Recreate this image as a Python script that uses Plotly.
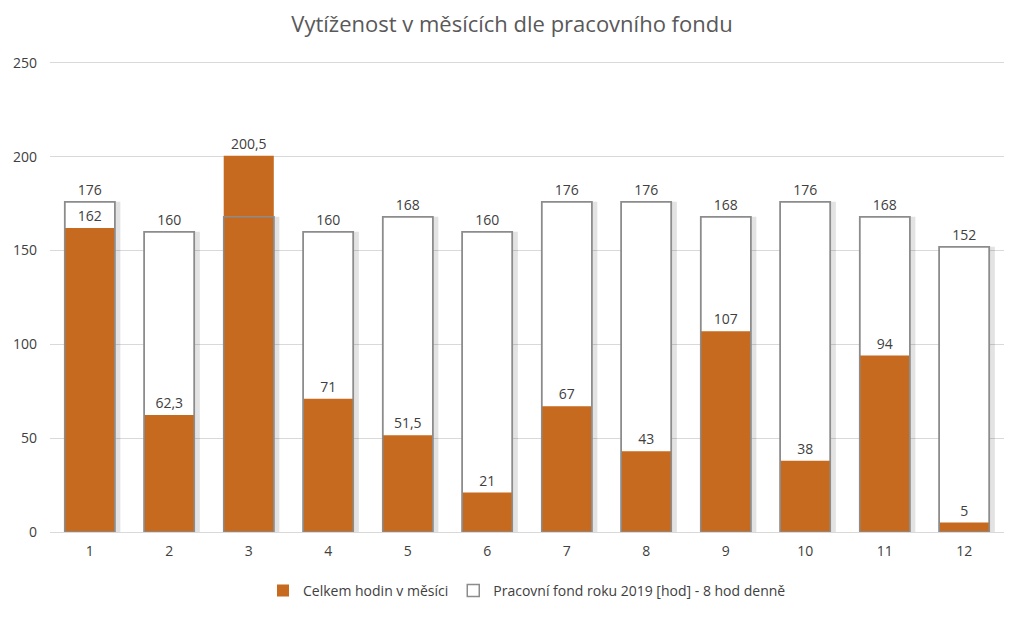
import plotly.graph_objects as go

# Data
mesice = [str(m) for m in range(1, 13)]
celkem_hodin = [162, 62.3, 200.5, 71, 51.5, 21, 67, 43, 107, 38, 94, 5]
pracovni_fond = [176, 160, 168, 160, 168, 160, 176, 176, 168, 176, 168, 152]

ORANZOVA = '#C66A1F'
SEDA = '#8C8C8C'
TEXT = '#404040'
FONT = 'Open Sans'
SIRKA = 0.63


def cz(v):
    # desetinná čárka
    return f"{v:g}".replace('.', ',')


fig = go.Figure()

# stín za sloupci
fig.add_trace(go.Bar(
    x=mesice, y=pracovni_fond, width=SIRKA, offset=-SIRKA / 2 + 0.07,
    marker=dict(color='rgba(0,0,0,0.11)', line_width=0),
    showlegend=False, hoverinfo='skip'
))

fig.add_trace(go.Bar(
    x=mesice, y=pracovni_fond, width=SIRKA,
    name='Pracovní fond roku 2019 [hod] - 8 hod denně',
    marker=dict(color='white', line=dict(color=SEDA, width=1.5)),
    text=[cz(v) for v in pracovni_fond], textposition='outside',
    textfont=dict(size=14, color=TEXT), cliponaxis=False
))

fig.add_trace(go.Bar(
    x=mesice, y=celkem_hodin, width=SIRKA,
    name='Celkem hodin v měsíci',
    marker=dict(color=ORANZOVA, line_width=0),
    text=[cz(v) for v in celkem_hodin], textposition='outside',
    textfont=dict(size=14, color=TEXT), cliponaxis=False
))

# obrys pracovního fondu nad oranžovými sloupci
fig.add_trace(go.Bar(
    x=mesice, y=pracovni_fond, width=SIRKA,
    marker=dict(color='rgba(0,0,0,0)', line=dict(color=SEDA, width=1.5)),
    showlegend=False, hoverinfo='skip'
))

fig.update_layout(
    barmode='overlay',
    width=1024, height=618,
    paper_bgcolor='white', plot_bgcolor='white',
    font=dict(family=FONT, size=14, color=TEXT),
    title=dict(text='Vytíženost v měsících dle pracovního fondu',
               x=0.5, xanchor='center', y=0.96, yanchor='middle',
               font=dict(size=22, color='#595959')),
    margin=dict(l=50, r=20, t=59, b=86, autoexpand=False),
    legend=dict(orientation='h', x=0.5, xanchor='center',
                yref='container', y=0.044, yanchor='middle',
                traceorder='reversed', font=dict(size=14, color=TEXT),
                itemwidth=30),
    showlegend=True
)

fig.update_yaxes(range=[0, 252], tickvals=[0, 50, 100, 150, 200, 250],
                 showgrid=True, gridcolor='#D9D9D9',
                 zeroline=False, showline=False, ticks='', ticklen=0,
                 ticklabelstandoff=12,
                 tickfont=dict(size=14, color=TEXT))
fig.update_xaxes(showline=True, linecolor='#D9D9D9', linewidth=1, ticks='',
                 ticklabelstandoff=6,
                 tickfont=dict(size=14, color=TEXT))

fig.write_html("out.html", config={'displayModeBar': False},
               post_script="document.body.style.margin='0';")
